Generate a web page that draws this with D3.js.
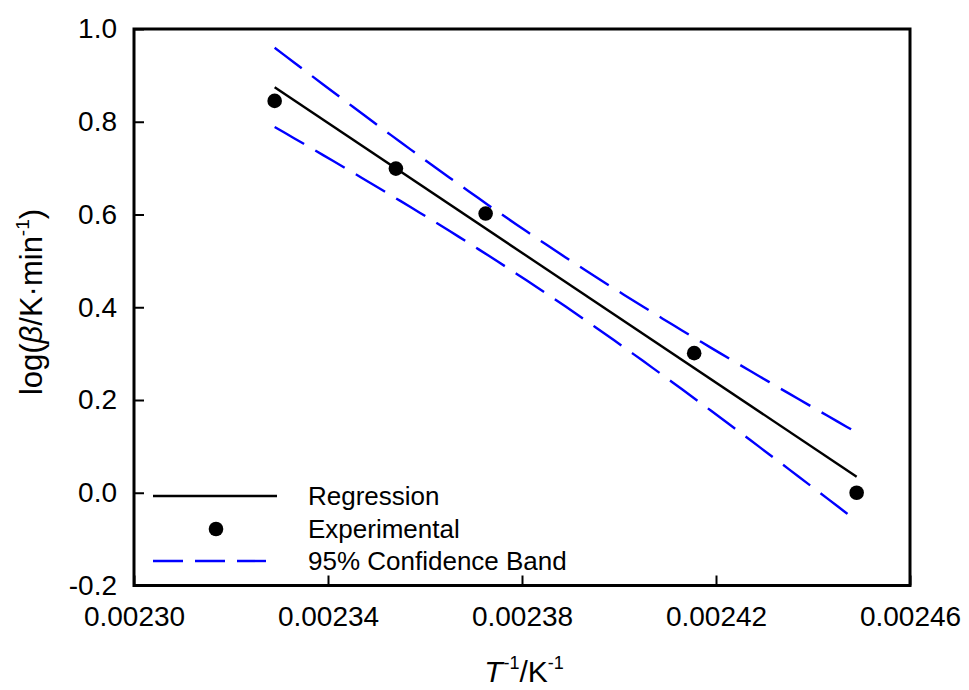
<!DOCTYPE html>
<html>
<head>
<meta charset="utf-8">
<script src="https://cdn.jsdelivr.net/npm/d3@7"></script>
<style>
  html, body { margin: 0; padding: 0; background: #fff; }
  svg { display: block; font-family: "Liberation Sans", Arial, sans-serif; }
</style>
</head>
<body>
<svg id="chart" width="969" height="690"></svg>
<script>
// Heating-rate data: inverse peak temperature vs log of heating rate
const invT = [0.002329, 0.002354, 0.0023725, 0.0024155, 0.002449];
const logBeta = [0.845, 0.699, 0.602, 0.301, 0.000];

const xTicks = [0.00230, 0.00234, 0.00238, 0.00242, 0.00246];
const yTicks = [-0.2, 0.0, 0.2, 0.4, 0.6, 0.8, 1.0];

const legendLabels = ["Regression", "Experimental", "95% Confidence Band"];

// Student t critical value, two-sided 95 %, n - 2 = 3 degrees of freedom
const tCrit = 3.182;

const svg = d3.select("#chart");
const plotL = 134, plotR = 910, plotT = 29, plotB = 585.5;

const x = d3.scaleLinear().domain([0.00230, 0.00246]).range([plotL, plotR]);
const y = d3.scaleLinear().domain([-0.2, 1.0]).range([plotB, plotT]);

// Least-squares fit and confidence band for the mean response
const n = invT.length;
const mx = d3.mean(invT), my = d3.mean(logBeta);
const sxx = d3.sum(invT, v => (v - mx) ** 2);
const sxy = d3.sum(invT.map((v, i) => (v - mx) * (logBeta[i] - my)));
const slope = sxy / sxx, intercept = my - slope * mx;
const fit = v => intercept + slope * v;
const sse = d3.sum(invT.map((v, i) => (logBeta[i] - fit(v)) ** 2));
const s = Math.sqrt(sse / (n - 2));
const half = v => tCrit * s * Math.sqrt(1 / n + (v - mx) ** 2 / sxx);

const xMin = d3.min(invT), xMax = d3.max(invT);
const xs = d3.range(0, 61).map(i => xMin + (xMax - xMin) * i / 60);

const line = d3.line().x(d => x(d[0])).y(d => y(d[1]));

// Confidence band (upper and lower)
const bandStyle = sel => sel.attr("fill", "none").attr("stroke", "#0000ff")
  .attr("stroke-width", 2.4).attr("stroke-dasharray", "34,13");
svg.append("path").datum(xs.map(v => [v, fit(v) + half(v)])).attr("d", line).call(bandStyle);
svg.append("path").datum(xs.map(v => [v, fit(v) - half(v)])).attr("d", line).call(bandStyle);

// Regression line
svg.append("path").datum([[xMin, fit(xMin)], [xMax, fit(xMax)]])
  .attr("d", line).attr("fill", "none").attr("stroke", "#000").attr("stroke-width", 2.4);

// Experimental points
svg.append("g").selectAll("circle").data(invT).join("circle")
  .attr("cx", d => x(d)).attr("cy", (d, i) => y(logBeta[i]))
  .attr("r", 7.3).attr("fill", "#000");

// Axes (ticks point inward)
const fmtY = v => d3.format(".1f")(v).replace("\u2212", "-");
const xAxis = svg.append("g").attr("transform", `translate(0,${plotB})`)
  .call(d3.axisBottom(x).tickValues(xTicks).tickFormat(d3.format(".5f"))
    .tickSizeInner(-10).tickSizeOuter(0).tickPadding(21));
const yAxis = svg.append("g").attr("transform", `translate(${plotL},0)`)
  .call(d3.axisLeft(y).tickValues(yTicks).tickFormat(fmtY)
    .tickSizeInner(-10).tickSizeOuter(0).tickPadding(17));
[xAxis, yAxis].forEach(g => {
  g.select(".domain").remove();
  g.selectAll(".tick line").attr("stroke", "#000").attr("stroke-width", 2);
  g.selectAll(".tick text").attr("fill", "#000").style("font-size", "28px")
    .style("font-family", "'Liberation Sans', Arial, sans-serif");
});

// Frame
svg.append("rect").attr("x", plotL).attr("y", plotT)
  .attr("width", plotR - plotL).attr("height", plotB - plotT)
  .attr("fill", "none").attr("stroke", "#000").attr("stroke-width", 3);

// Axis titles
const yTitle = svg.append("text")
  .attr("transform", "translate(42,302) rotate(-90)")
  .attr("text-anchor", "middle").attr("font-size", 31).attr("fill", "#000");
yTitle.append("tspan").text("log(");
yTitle.append("tspan").attr("font-style", "italic").text("\u03B2");
yTitle.append("tspan").text("/K\u00B7min");
yTitle.append("tspan").attr("font-size", 19).attr("dy", -13).text("-1");
yTitle.append("tspan").attr("dy", 13).text(")");

const xTitle = svg.append("text")
  .attr("x", (plotL + plotR) / 2 + 2).attr("y", 682)
  .attr("text-anchor", "middle").attr("font-size", 30).attr("fill", "#000");
xTitle.append("tspan").attr("font-style", "italic").text("T");
xTitle.append("tspan").attr("font-size", 18).attr("dy", -13).attr("dx", 1).text("-1");
xTitle.append("tspan").attr("dy", 13).text("/K");
xTitle.append("tspan").attr("font-size", 18).attr("dy", -13).text("-1");

// Legend
const lg = svg.append("g").attr("font-size", 26).attr("fill", "#000");
const rows = [496, 529, 561];
lg.append("line").attr("x1", 153).attr("x2", 277).attr("y1", rows[0]).attr("y2", rows[0])
  .attr("stroke", "#000").attr("stroke-width", 2.4);
lg.append("circle").attr("cx", 216).attr("cy", rows[1]).attr("r", 7.3).attr("fill", "#000");
lg.append("line").attr("x1", 153).attr("x2", 266).attr("y1", rows[2]).attr("y2", rows[2])
  .attr("stroke", "#0000ff").attr("stroke-width", 2.4).attr("stroke-dasharray", "30,12");
lg.selectAll("text").data(legendLabels).join("text")
  .attr("x", 308).attr("y", (d, i) => rows[i]).attr("dy", "0.35em").text(d => d);
</script>
</body>
</html>
